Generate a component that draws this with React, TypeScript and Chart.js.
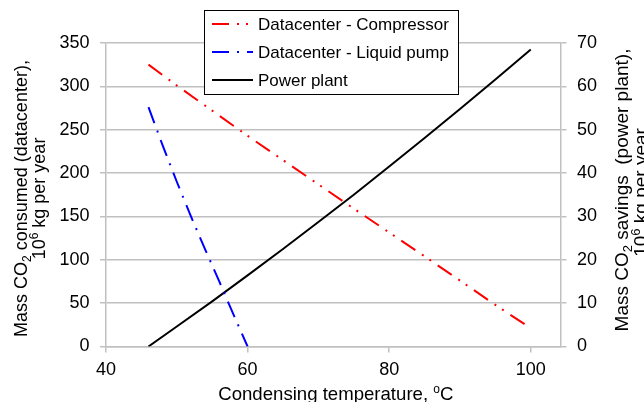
import React, { useEffect, useRef } from "react";
import { Chart, registerables } from "chart.js";

Chart.register(...registerables);

// ---- data ----
const compressorTemps = [46, 50, 55, 60, 65, 70, 75, 80, 85, 90, 95, 100];
const compressorCO2 = [325, 301, 272, 243, 215, 187, 159, 131.5, 104, 76, 48, 21];
const pumpTemps = [46, 48, 50, 52, 54, 56, 58, 60];
const pumpCO2 = [276, 232, 190, 150, 112, 75, 37, 0];
const plantTemps = [46, 50, 55, 60, 65, 70, 75, 80, 85, 90, 95, 100];
const plantSavings = [0, 4.6, 10.4, 16.4, 22.5, 28.7, 35.0, 41.5, 48.1, 54.8, 61.6, 68.5];
const xTicks = [40, 60, 80, 100];
const leftTicks = [0, 50, 100, 150, 200, 250, 300, 350];
const rightTicks = [0, 10, 20, 30, 40, 50, 60, 70];
const seriesLabels = ["Datacenter - Compressor", "Datacenter - Liquid pump", "Power plant"];

// ---- layout constants ----
const W = 680;
const H = 412;
const FONT = "'Liberation Sans', Arial, sans-serif";
const GRID = "#c0c0c0";

type Seg = { t: string; s?: "sub" | "sup" };
const leftTitle1: Seg[] = [{ t: "Mass CO" }, { t: "2", s: "sub" }, { t: " consumed (datacenter)," }];
const leftTitle2: Seg[] = [{ t: "10" }, { t: "6", s: "sup" }, { t: " kg per year" }];
const rightTitle1: Seg[] = [{ t: "Mass CO" }, { t: "2", s: "sub" }, { t: " savings  (power plant)," }];
const rightTitle2: Seg[] = [{ t: "10" }, { t: "6", s: "sup" }, { t: " kg per year" }];
const xTitle: Seg[] = [{ t: "Condensing temperature, " }, { t: "o", s: "sup" }, { t: "C" }];

function drawRich(ctx: CanvasRenderingContext2D, segs: Seg[], size: number) {
  const small = Math.round(size * 0.67);
  const widths = segs.map((sg) => {
    ctx.font = `${sg.s ? small : size}px ${FONT}`;
    return ctx.measureText(sg.t).width;
  });
  const total = widths.reduce((a, b) => a + b, 0);
  let x = -total / 2;
  ctx.textAlign = "left";
  ctx.textBaseline = "alphabetic";
  segs.forEach((sg, i) => {
    ctx.font = `${sg.s ? small : size}px ${FONT}`;
    const dy = sg.s === "sub" ? 4 : sg.s === "sup" ? -7 : 0;
    ctx.fillText(sg.t, x, dy);
    x += widths[i];
  });
}

const overlayPlugin = {
  id: "overlay",
  afterDraw(chart: any) {
    const ctx: CanvasRenderingContext2D = chart.ctx;
    ctx.save();
    ctx.fillStyle = "#000";
    // axis titles
    const rot = (segs: Seg[], x: number, y: number, size: number) => {
      ctx.save();
      ctx.translate(x, y);
      ctx.rotate(-Math.PI / 2);
      drawRich(ctx, segs, size);
      ctx.restore();
    };
    rot(leftTitle1, 26.5, 198.5, 18);
    rot(leftTitle2, 45, 198.5, 18);
    rot(rightTitle1, 628, 190, 19);
    rot(rightTitle2, 647, 192.5, 19);
    ctx.save();
    ctx.translate(335.8, 400);
    drawRich(ctx, xTitle, 18.6);
    ctx.restore();

    // legend box
    const bx = 204.5, by = 10.5, bw = 254, bh = 84;
    ctx.fillStyle = "#fff";
    ctx.fillRect(bx, by, bw, bh);
    ctx.strokeStyle = "#000";
    ctx.lineWidth = 1;
    ctx.setLineDash([]);
    ctx.strokeRect(bx, by, bw, bh);
    const rows = [24, 52, 80];
    chart.data.datasets.forEach((ds: any, i: number) => {
      const y = rows[i];
      ctx.strokeStyle = ds.borderColor;
      ctx.lineWidth = ds.borderWidth;
      ctx.lineCap = "butt";
      ctx.setLineDash(ds.borderDash || []);
      ctx.beginPath();
      ctx.moveTo(212, y);
      ctx.lineTo(253, y);
      ctx.stroke();
      ctx.setLineDash([]);
      ctx.fillStyle = "#000";
      ctx.font = `17px ${FONT}`;
      ctx.textAlign = "left";
      ctx.textBaseline = "middle";
      ctx.fillText(ds.label, 258, y + 1);
    });
    ctx.restore();
  },
};

const toPoints = (xs: number[], ys: number[]) => xs.map((x, i) => ({ x, y: ys[i] }));

export default function App() {
  const ref = useRef<HTMLCanvasElement | null>(null);
  useEffect(() => {
    if (!ref.current) return;
    const tickFont = { family: FONT, size: 18 };
    const chart = new Chart(ref.current, {
      type: "line",
      data: {
        datasets: [
          {
            label: seriesLabels[0],
            data: toPoints(compressorTemps, compressorCO2),
            borderColor: "#ff0000",
            borderWidth: 2,
            borderDash: [17, 8, 2, 7, 2, 8],
            borderCapStyle: "butt",
            pointRadius: 0,
            tension: 0,
            yAxisID: "y",
          },
          {
            label: seriesLabels[1],
            data: toPoints(pumpTemps, pumpCO2),
            borderColor: "#0000ff",
            borderWidth: 2,
            borderDash: [17, 8, 2, 8],
            borderCapStyle: "butt",
            pointRadius: 0,
            tension: 0,
            yAxisID: "y",
          },
          {
            label: seriesLabels[2],
            data: toPoints(plantTemps, plantSavings),
            borderColor: "#000000",
            borderWidth: 2,
            pointRadius: 0,
            tension: 0,
            yAxisID: "y2",
          },
        ],
      },
      options: {
        responsive: false,
        animation: false,
        devicePixelRatio: 1,
        parsing: false as any,
        layout: { padding: { top: 43, left: 0, right: 0, bottom: 0 } },
        plugins: { legend: { display: false }, tooltip: { enabled: false } },
        scales: {
          x: {
            type: "linear",
            min: 40,
            max: 104.2,
            afterBuildTicks: (s: any) => {
              s.ticks = xTicks.map((v) => ({ value: v }));
            },
            afterFit: (s: any) => {
              s.height = H - 346.5;
            },
            grid: { drawOnChartArea: false, color: GRID, lineWidth: 1.5, tickLength: 6 },
            border: { color: GRID, width: 1.5 },
            ticks: { font: tickFont, color: "#000", padding: 7, maxRotation: 0 },
          },
          y: {
            type: "linear",
            position: "left",
            min: 0,
            max: 350,
            afterBuildTicks: (s: any) => {
              s.ticks = leftTicks.map((v) => ({ value: v }));
            },
            afterFit: (s: any) => {
              s.width = 106;
            },
            grid: { color: GRID, lineWidth: 1.5, tickLength: 6 },
            border: { color: GRID, width: 1.5 },
            ticks: { font: tickFont, color: "#000", padding: 10.5 },
          },
          y2: {
            type: "linear",
            position: "right",
            min: 0,
            max: 70,
            afterBuildTicks: (s: any) => {
              s.ticks = rightTicks.map((v) => ({ value: v }));
            },
            afterFit: (s: any) => {
              s.width = W - 560.5;
            },
            grid: { drawOnChartArea: false, color: GRID, lineWidth: 1.5, tickLength: 6 },
            border: { color: GRID, width: 1.5 },
            ticks: { font: tickFont, color: "#000", padding: 10.5 },
          },
        },
      } as any,
      plugins: [overlayPlugin],
    });
    return () => chart.destroy();
  }, []);

  return (
    <div
      style={{
        position: "fixed",
        left: 0,
        top: 0,
        width: 644,
        height: 402,
        overflow: "hidden",
        background: "#fff",
      }}
    >
      <canvas ref={ref} width={W} height={H} style={{ display: "block", width: W, height: H }} />
    </div>
  );
}
